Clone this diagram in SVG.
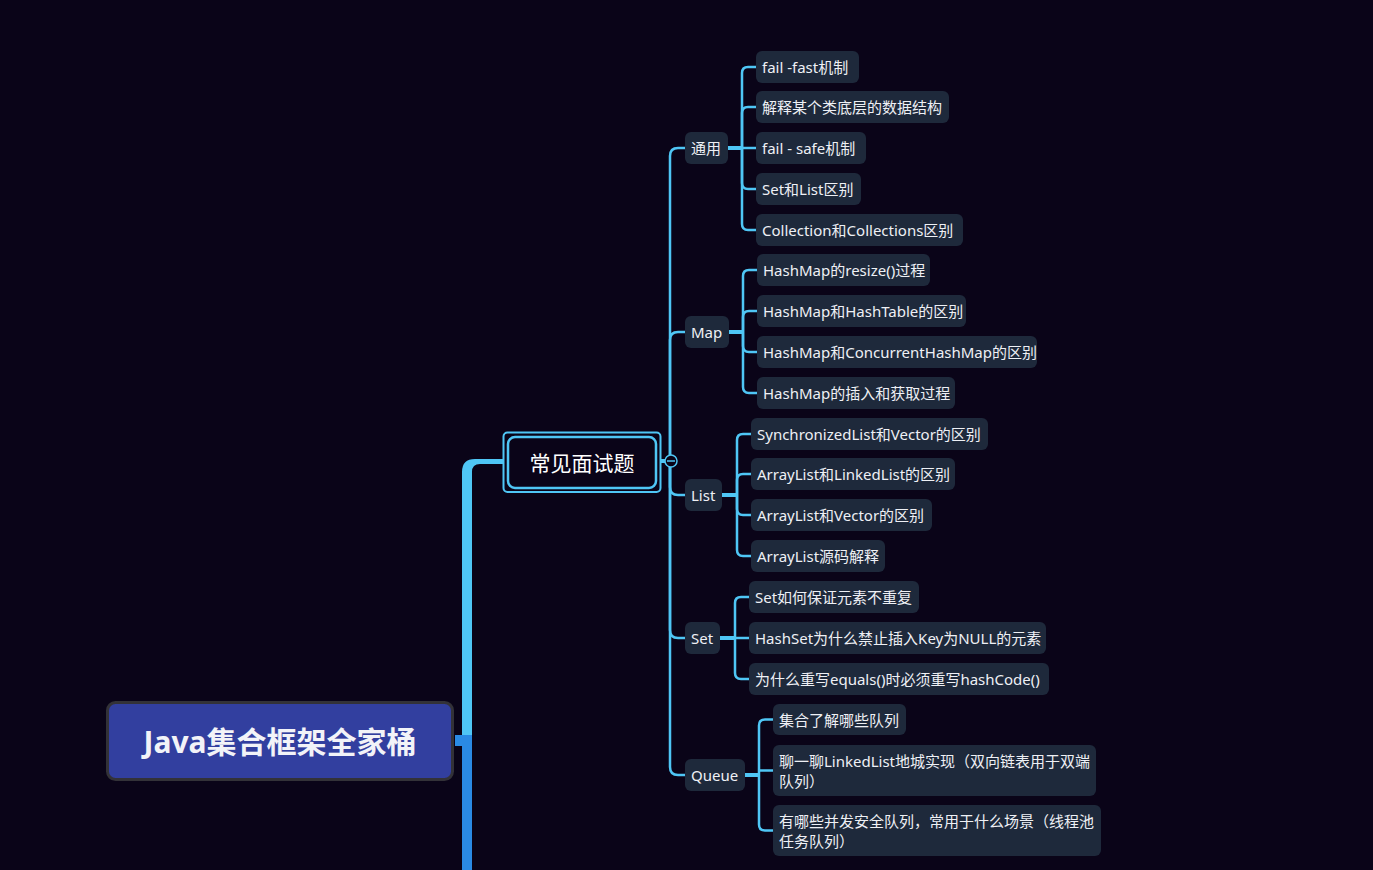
<svg xmlns="http://www.w3.org/2000/svg" width="1373" height="870" viewBox="0 0 1373 870">
<style>
.bg{fill:#0a0418}
.leaf rect{fill:#1e293b}
.leaf text,.branch text{font-family:"Noto Sans","Noto Sans CJK SC",sans-serif;font-size:15px;fill:#eef0f5;dominant-baseline:central}
.branch rect{fill:#1e293b}
.ln{fill:none;stroke:#4fc6f5;stroke-width:2.5}
.lnb{fill:none;stroke:#4fc6f5;stroke-width:4}
</style>
<rect class="bg" x="0" y="0" width="1373" height="870"/>

<g id="connectors">
  <!-- trunk from root -->
  <rect x="462" y="735" width="10" height="135" fill="#2a8ae4"/>
  <rect x="455" y="735" width="17" height="11" fill="#2a8ae4"/>
  <path d="M462,735 L462,472 Q462,459 475,459 L503,459 L503,464 L480,464 Q472,464 472,472 L472,735 Z" fill="#4fc6f5"/>
  <!-- center to circle -->
  <path class="lnb" d="M661,461 H666"/>
  <!-- center to branches -->
  <path class="ln" d="M670,461 V156 Q670,148 678,148 H685"/>
  <path class="ln" d="M670,461 V340 Q670,332 678,332 H685"/>
  <path class="ln" d="M670,461 V487 Q670,495 678,495 H685"/>
  <path class="ln" d="M670,461 V630 Q670,638 678,638 H685"/>
  <path class="ln" d="M670,461 V767 Q670,775 678,775 H685"/>
  <!-- 通用 -->
  <path class="lnb" d="M728,148 H742"/>
  <path class="ln" d="M742,148 V73 Q742,67 748,67 H756"/>
  <path class="ln" d="M742,148 V113 Q742,107 748,107 H756"/>
  <path class="ln" d="M742,148 H756"/>
  <path class="ln" d="M742,148 V183 Q742,189 748,189 H756"/>
  <path class="ln" d="M742,148 V224 Q742,230 748,230 H756"/>
  <!-- Map -->
  <path class="lnb" d="M729,332 H743"/>
  <path class="ln" d="M743,332 V276 Q743,270 749,270 H757"/>
  <path class="ln" d="M743,332 V317 Q743,311 749,311 H757"/>
  <path class="ln" d="M743,332 V346 Q743,352 749,352 H757"/>
  <path class="ln" d="M743,332 V387 Q743,393 749,393 H757"/>
  <!-- List -->
  <path class="lnb" d="M722,495 H737"/>
  <path class="ln" d="M737,495 V440 Q737,434 743,434 H751"/>
  <path class="ln" d="M737,495 V480 Q737,474 743,474 H751"/>
  <path class="ln" d="M737,495 V509 Q737,515 743,515 H751"/>
  <path class="ln" d="M737,495 V550 Q737,556 743,556 H751"/>
  <!-- Set -->
  <path class="lnb" d="M720,638 H735"/>
  <path class="ln" d="M735,638 V603 Q735,597 741,597 H749"/>
  <path class="ln" d="M735,638 H749"/>
  <path class="ln" d="M735,638 V673 Q735,679 741,679 H749"/>
  <!-- Queue -->
  <path class="lnb" d="M745,775 H759"/>
  <path class="ln" d="M759,775 V725.5 Q759,719.5 765,719.5 H773"/>
  <path class="ln" d="M759,770.5 H773"/>
  <path class="ln" d="M759,775 V824.5 Q759,830.5 765,830.5 H773"/>
  <!-- collapse circle -->
  <circle cx="671" cy="461" r="6" fill="#0a0418" stroke="#4fc6f5" stroke-width="1.5"/>
  <path d="M667,461 H675" stroke="#4fc6f5" stroke-width="1.5"/>
</g>

<g id="root">
  <rect x="107.5" y="702.5" width="345" height="77" rx="8" fill="#323f9f" stroke="#333238" stroke-width="3"/>
  <text x="280" y="741" text-anchor="middle" dominant-baseline="central" font-family="Noto Sans,'Noto Sans CJK SC',sans-serif" font-size="30" font-weight="bold" fill="#f2f3f8">Java集合框架全家桶</text>
</g>

<g id="center">
  <rect x="503.5" y="432.5" width="157" height="59.5" rx="4" fill="#0a0418" stroke="#4fc6f5" stroke-width="2"/>
  <rect x="508" y="437" width="148" height="51" rx="7" fill="#0a0418" stroke="#4fc6f5" stroke-width="2.5"/>
  <text x="582" y="461.5" text-anchor="middle" dominant-baseline="central" font-family="'Noto Sans CJK SC',sans-serif" font-size="21" fill="#ffffff">常见面试题</text>
</g>

<g id="b-tongyong" class="branch"><rect x="685" y="132" width="43" height="32" rx="6"/><text x="691" y="148">通用</text></g>
<g id="b-map" class="branch"><rect x="685" y="316" width="44" height="32" rx="6"/><text x="691" y="332">Map</text></g>
<g id="b-list" class="branch"><rect x="685" y="479" width="37" height="32" rx="6"/><text x="691" y="495">List</text></g>
<g id="b-set" class="branch"><rect x="685" y="622" width="35" height="32" rx="6"/><text x="691" y="638">Set</text></g>
<g id="b-queue" class="branch"><rect x="685" y="759" width="60" height="32" rx="6"/><text x="691" y="775">Queue</text></g>

<g id="l1" class="leaf"><rect x="756" y="51" width="103" height="32" rx="6"/><text x="762" y="67">fail -fast机制</text></g>
<g id="l2" class="leaf"><rect x="756" y="91" width="193" height="32" rx="6"/><text x="762" y="107">解释某个类底层的数据结构</text></g>
<g id="l3" class="leaf"><rect x="756" y="132" width="110" height="32" rx="6"/><text x="762" y="148">fail - safe机制</text></g>
<g id="l4" class="leaf"><rect x="756" y="173" width="105" height="32" rx="6"/><text x="762" y="189">Set和List区别</text></g>
<g id="l5" class="leaf"><rect x="756" y="214" width="207" height="32" rx="6"/><text x="762" y="230">Collection和Collections区别</text></g>

<g id="l6" class="leaf"><rect x="757" y="254" width="173" height="32" rx="6"/><text x="763" y="270">HashMap的resize()过程</text></g>
<g id="l7" class="leaf"><rect x="757" y="295" width="209" height="32" rx="6"/><text x="763" y="311">HashMap和HashTable的区别</text></g>
<g id="l8" class="leaf"><rect x="757" y="336" width="280" height="32" rx="6"/><text x="763" y="352">HashMap和ConcurrentHashMap的区别</text></g>
<g id="l9" class="leaf"><rect x="757" y="377" width="198" height="32" rx="6"/><text x="763" y="393">HashMap的插入和获取过程</text></g>

<g id="l10" class="leaf"><rect x="751" y="418" width="237" height="32" rx="6"/><text x="757" y="434">SynchronizedList和Vector的区别</text></g>
<g id="l11" class="leaf"><rect x="751" y="458" width="204" height="32" rx="6"/><text x="757" y="474">ArrayList和LinkedList的区别</text></g>
<g id="l12" class="leaf"><rect x="751" y="499" width="181" height="32" rx="6"/><text x="757" y="515">ArrayList和Vector的区别</text></g>
<g id="l13" class="leaf"><rect x="751" y="540" width="134" height="32" rx="6"/><text x="757" y="556">ArrayList源码解释</text></g>

<g id="l14" class="leaf"><rect x="749" y="581" width="170" height="32" rx="6"/><text x="755" y="597">Set如何保证元素不重复</text></g>
<g id="l15" class="leaf"><rect x="749" y="622" width="297" height="32" rx="6"/><text x="755" y="638">HashSet为什么禁止插入Key为NULL的元素</text></g>
<g id="l16" class="leaf"><rect x="749" y="663" width="300" height="32" rx="6"/><text x="755" y="679">为什么重写equals()时必须重写hashCode()</text></g>

<g id="l17" class="leaf"><rect x="773" y="704" width="133" height="31" rx="6"/><text x="779" y="719.5">集合了解哪些队列</text></g>
<g id="l18" class="leaf"><rect x="773" y="745" width="323" height="51" rx="6"/><text x="779" y="760.5">聊一聊LinkedList地城实现（双向链表用于双端</text><text x="779" y="780.5">队列）</text></g>
<g id="l19" class="leaf"><rect x="773" y="805" width="328" height="51" rx="6"/><text x="779" y="820.5">有哪些并发安全队列，常用于什么场景（线程池</text><text x="779" y="840.5">任务队列）</text></g>
</svg>
